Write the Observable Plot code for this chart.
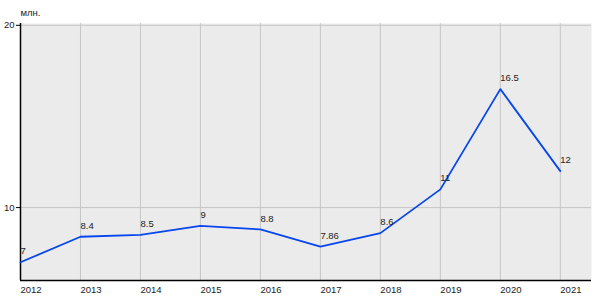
<!DOCTYPE html>
<html>
<head>
<meta charset="utf-8">
<script src="https://cdn.jsdelivr.net/npm/d3@7"></script>
<script src="https://cdn.jsdelivr.net/npm/@observablehq/plot@0.6"></script>
<style>
  html, body { margin: 0; padding: 0; background: #fff; }
  #chart svg { display: block; }
</style>
</head>
<body>
<div id="chart"></div>
<script>
const years = [2012, 2013, 2014, 2015, 2016, 2017, 2018, 2019, 2020, 2021];
const values = [7, 8.4, 8.5, 9, 8.8, 7.86, 8.6, 11, 16.5, 12];
const valueLabels = ["7", "8.4", "8.5", "9", "8.8", "7.86", "8.6", "11", "16.5", "12"];
const yTicks = [10, 20];
const unitLabel = "млн.";

const data = years.map((year, i) => ({year, value: values[i], label: valueLabels[i]}));

const chart = Plot.plot({
  width: 600,
  height: 300,
  marginLeft: 20,
  marginRight: 9,
  marginTop: 23,
  marginBottom: 20,
  style: {fontFamily: "'Liberation Sans', Arial, sans-serif", fontSize: "9.5px", color: "#222", background: "#fff"},
  x: {domain: [2012, 2021.52], axis: null},
  y: {domain: [6, 20.1], axis: null},
  marks: [
    Plot.frame({fill: "#ebebeb", stroke: null}),
    Plot.ruleX(years.slice(1), {stroke: "#c6c6c6", strokeWidth: 1}),
    Plot.ruleY(yTicks, {stroke: "#c6c6c6", strokeWidth: 1}),
    Plot.axisY(yTicks, {tickSize: 4, tickPadding: 2, tickFormat: d => String(d), label: null, stroke: "#000", fill: "#222"}),
    Plot.axisX(years, {tickSize: 0, tickPadding: 6, tickFormat: d => String(d), textAnchor: "start", label: null, fill: "#222"}),
    Plot.ruleX([2012], {stroke: "#000", strokeWidth: 1.5}),
    Plot.ruleY([6], {stroke: "#000", strokeWidth: 1.5}),
    Plot.line(data, {x: "year", y: "value", stroke: "#0646ee", strokeWidth: 1.8}),
    Plot.text(data, {x: "year", y: "value", text: "label", textAnchor: "start", dx: 0, dy: -11, fill: "#222"}),
    Plot.text([unitLabel], {x: () => 2012, y: () => 20, text: d => d, textAnchor: "start", dy: -12, fill: "#222"})
  ]
});
document.getElementById("chart").appendChild(chart);
</script>
</body>
</html>
